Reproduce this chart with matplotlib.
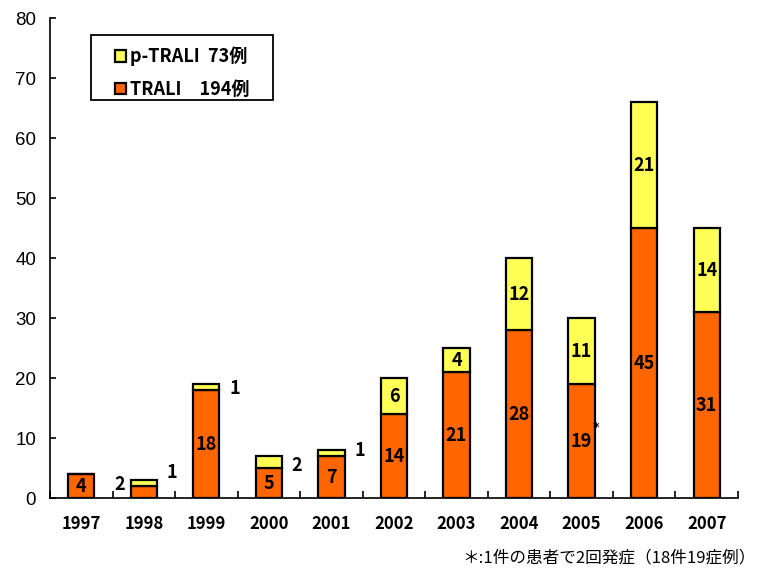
import numpy as np
import matplotlib
matplotlib.use("Agg")
import matplotlib.pyplot as plt
from matplotlib.patches import Rectangle

plt.rcParams['font.family'] = ['Noto Sans CJK JP', 'DejaVu Sans']

years = ["1997", "1998", "1999", "2000", "2001", "2002",
         "2003", "2004", "2005", "2006", "2007"]
trali = [4, 2, 18, 5, 7, 14, 21, 28, 19, 45, 31]
p_trali = [0, 1, 1, 2, 1, 6, 4, 12, 11, 21, 14]

ORANGE = "#FF6600"
YELLOW = "#FFFF55"

fig = plt.figure(figsize=(7.61, 5.70), dpi=100)
ax = fig.add_axes([0.0657, 0.1263, 0.9040, 0.8421])

x = np.arange(len(years))
w = 0.42
ax.bar(x, trali, w, color=ORANGE, edgecolor="black", linewidth=1.6,
       label="TRALI\u3000194例", zorder=3)
ax.bar(x, p_trali, w, bottom=trali, color=YELLOW, edgecolor="black",
       linewidth=1.6, label="p-TRALI  73例", zorder=3)

lab = dict(fontsize=13, fontweight="bold", ha="center", va="center", zorder=4)

# values inside tall enough segments, small ones placed beside the bar
for i, (t, p) in enumerate(zip(trali, p_trali)):
    if t >= 4:
        ax.text(i, t / 2, f"{t}", **lab)
    else:
        ax.text(i - 0.39, t + 0.2, f"{t}", **lab)
    if p >= 4:
        ax.text(i, t + p / 2, f"{p}", **lab)
    elif p > 0:
        dy = {1: 1.3, 2: -0.7, 3: -1.5, 4: 0.0}.get(i, 0.0)
        ax.text(i + 0.45, t + p + dy, f"{p}", **lab)

ax.text(8.235, 11.8, "*", fontsize=9, fontweight="bold", ha="center",
        va="center", family="DejaVu Sans")

ax.set_xlim(-0.5, len(years) - 0.5)
ax.set_ylim(0, 80)
ax.set_yticks(range(0, 81, 10))
ax.set_xticks(x)
ax.set_xticklabels(years, fontsize=12, fontweight="bold")
ax.set_xticks(np.arange(-0.5, len(years), 1), minor=True)
for lbl in ax.get_yticklabels():
    lbl.set_fontfamily("Liberation Sans")
    lbl.set_fontsize(13.5)
ax.tick_params(axis="y", direction="in", length=4, width=1.2, pad=10)
ax.tick_params(axis="x", which="major", length=0, pad=12)
ax.tick_params(axis="x", which="minor", direction="in", length=5, width=1.2)

ax.spines['top'].set_visible(False)
ax.spines['right'].set_visible(False)
ax.spines['left'].set_linewidth(1.2)
ax.spines['bottom'].set_linewidth(1.2)

# legend box drawn separately so it can be wider than its entries
fig.patches.append(Rectangle((0.1196, 0.8246), 0.2392, 0.114,
                             transform=fig.transFigure, fill=True,
                             facecolor="white", edgecolor="black",
                             linewidth=1.3, zorder=5))
handles, labels = ax.get_legend_handles_labels()
leg = fig.legend(handles[::-1], labels[::-1], loc="upper left",
                 bbox_to_anchor=(0.151, 0.918), frameon=False,
                 handlelength=0.6, handleheight=0.6, handletextpad=0.25,
                 borderpad=0, borderaxespad=0, labelspacing=0.75,
                 prop=dict(weight="bold", size=13))
leg.set_zorder(6)

fig.text(0.993, 0.022, "＊:1件の患者で2回発症（18件19症例）", ha="right",
         va="center", fontsize=12)

fig.savefig("out.png", dpi=100)
